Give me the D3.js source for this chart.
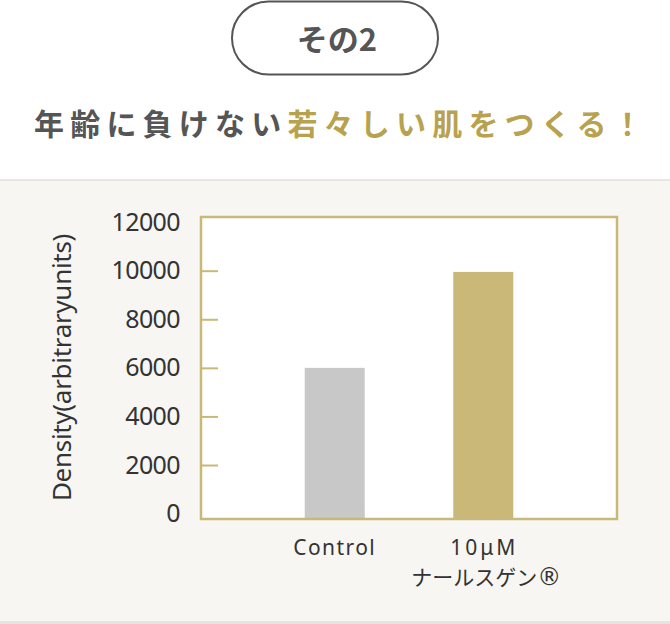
<!DOCTYPE html>
<html lang="ja">
<head>
    <meta charset="UTF-8">
    <title>その2</title>
    <script src="https://d3js.org/d3.v7.min.js"></script>
    <style>
        body { margin: 0; background: #fff; }
        svg { display: block; }
        .tick text { font-family: "Noto Sans", "Open Sans", sans-serif; }
    </style>
</head>
<body>
    <svg width="670" height="624"></svg>

    <script>
        // chart data
        const categories = ["control", "narsgen"];
        const categoryLines = [["Control"], ["10μM", "ナールスゲン", "®"]];
        const densityValues = [6000, 9950];
        const yTicks = [0, 2000, 4000, 6000, 8000, 10000, 12000];
        const titleParts = ["年齢に負けない", "若々しい肌をつくる！"];

        const svg = d3.select("svg");
        const width = +svg.attr("width");

        const gold = "#c9b877";
        const goldText = "#b9a24f";
        const dark = "#555555";

        // header
        svg.append("rect")
            .attr("x", 232).attr("y", 1.5)
            .attr("width", 206).attr("height", 73)
            .attr("rx", 36.5)
            .attr("fill", "#fff")
            .attr("stroke", dark)
            .attr("stroke-width", 2);

        svg.append("text")
            .attr("x", 337).attr("y", 51)
            .attr("text-anchor", "middle")
            .attr("font-family", "'Noto Sans CJK JP', sans-serif")
            .attr("font-weight", 700)
            .attr("font-size", 31)
            .attr("fill", dark)
            .text("その2");

        const title = svg.append("text")
            .attr("x", 34).attr("y", 135)
            .attr("font-family", "'Noto Sans CJK JP', sans-serif")
            .attr("font-weight", 700)
            .attr("font-size", 30)
            .attr("letter-spacing", 6.2);
        title.append("tspan").attr("fill", dark).text(titleParts[0]);
        title.append("tspan").attr("fill", goldText).text(titleParts[1]);

        // chart panel background
        svg.append("rect")
            .attr("x", 0).attr("y", 179)
            .attr("width", width).attr("height", 445)
            .attr("fill", "#f7f6f3");
        svg.append("rect")
            .attr("x", 0).attr("y", 179)
            .attr("width", width).attr("height", 2)
            .attr("fill", "#e9e6e0");
        svg.append("rect")
            .attr("x", 0).attr("y", 621)
            .attr("width", width).attr("height", 3)
            .attr("fill", "#e6e4de");

        // plot frame
        const frame = { left: 201, right: 617, top: 217, bottom: 519 };

        const y = d3.scaleLinear()
            .domain([0, 12000])
            .range([513.6, 222.1]);

        const x = d3.scalePoint()
            .domain(categories)
            .range([frame.left, frame.right])
            .padding(0.9);

        svg.append("rect")
            .attr("x", frame.left).attr("y", frame.top)
            .attr("width", frame.right - frame.left)
            .attr("height", frame.bottom - frame.top)
            .attr("fill", "#fff");

        // bars
        const barWidth = 60;
        svg.append("g")
            .selectAll("rect")
            .data(categories)
            .join("rect")
            .attr("x", d => x(d) - barWidth / 2)
            .attr("y", (d, i) => y(densityValues[i]))
            .attr("width", barWidth)
            .attr("height", (d, i) => frame.bottom - y(densityValues[i]))
            .attr("fill", (d, i) => i === 0 ? "#c8c8c8" : gold);

        svg.append("rect")
            .attr("x", frame.left).attr("y", frame.top)
            .attr("width", frame.right - frame.left)
            .attr("height", frame.bottom - frame.top)
            .attr("fill", "none")
            .attr("stroke", gold)
            .attr("stroke-width", 2.5);

        // inner tick marks
        const innerTicks = svg.append("g")
            .attr("transform", `translate(${frame.left},0)`)
            .call(d3.axisRight(y)
                .tickValues(yTicks.filter(v => v > 0 && v < 12000))
                .tickSize(17)
                .tickFormat(""));
        innerTicks.select(".domain").remove();
        innerTicks.selectAll(".tick line")
            .attr("stroke", gold)
            .attr("stroke-width", 2);

        // tick labels
        const yAxis = svg.append("g")
            .attr("transform", `translate(${frame.left},0)`)
            .call(d3.axisLeft(y)
                .tickValues(yTicks)
                .tickSize(0)
                .tickPadding(21)
                .tickFormat(d3.format("d")));
        yAxis.select(".domain").remove();
        yAxis.selectAll(".tick text")
            .attr("font-size", 25)
            .attr("letter-spacing", -0.6)
            .attr("fill", "#333");

        svg.append("text")
            .attr("transform", "translate(71,367.5) rotate(-90)")
            .attr("text-anchor", "middle")
            .attr("font-family", "'Noto Sans', sans-serif")
            .attr("font-size", 26)
            .attr("letter-spacing", -0.3)
            .attr("fill", "#333")
            .text("Density(arbitraryunits)");

        // category labels
        const cx0 = x(categories[0]);
        const cx1 = x(categories[1]);

        svg.append("text")
            .attr("x", cx0).attr("y", 555)
            .attr("text-anchor", "middle")
            .attr("font-family", "'Noto Sans', sans-serif")
            .attr("font-size", 21)
            .attr("letter-spacing", 1.4)
            .attr("fill", "#333")
            .text(categoryLines[0][0]);

        svg.append("text")
            .attr("x", cx1 + 1).attr("y", 555)
            .attr("text-anchor", "middle")
            .attr("font-family", "'Noto Sans', sans-serif")
            .attr("font-size", 21)
            .attr("letter-spacing", 3)
            .attr("fill", "#333")
            .text(categoryLines[1][0]);

        const jp = svg.append("text")
            .attr("x", cx1 + 3).attr("y", 585)
            .attr("text-anchor", "middle")
            .attr("font-family", "'Noto Sans CJK JP', sans-serif")
            .attr("font-size", 21)
            .attr("fill", "#333");
        jp.append("tspan").text(categoryLines[1][1]);
        jp.append("tspan")
            .attr("font-family", "'DejaVu Sans', sans-serif")
            .attr("font-size", 24)
            .text(categoryLines[1][2]);
    </script>
</body>
</html>
